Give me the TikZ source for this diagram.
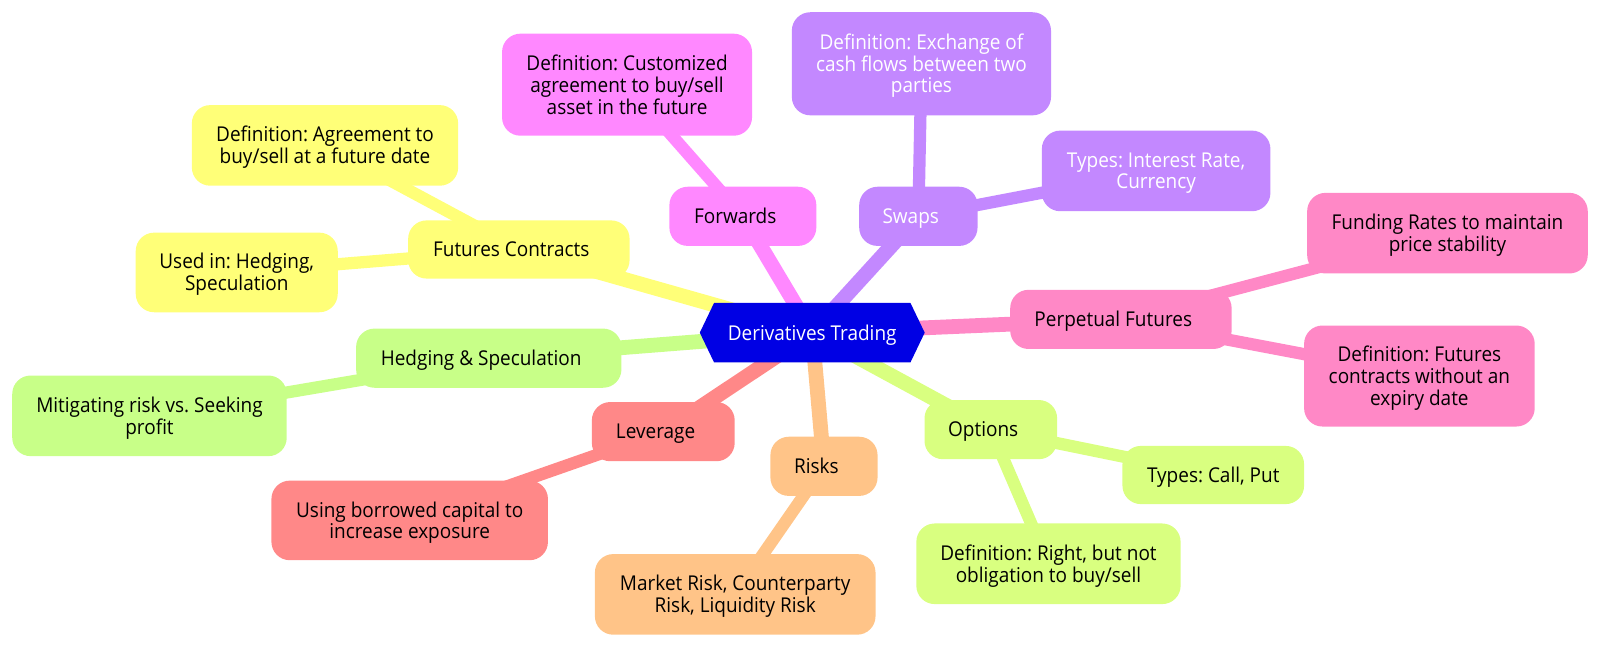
\documentclass[tikz,border=0pt]{standalone}
\usepackage{fontspec}
\setmainfont{Open Sans}[FakeStretch=0.93]
\frenchspacing
\pgfdeclarelayer{background}
\pgfdeclarelayer{mid}
\pgfsetlayers{background,mid,main}
\definecolor{cyel}{HTML}{FFFF78}
\definecolor{cmag}{HTML}{FF88FF}
\definecolor{cpur}{HTML}{C388FF}
\definecolor{cpink}{HTML}{FF88C6}
\definecolor{clime}{HTML}{D9FF80}
\definecolor{cora}{HTML}{FFC488}
\definecolor{cred}{HTML}{FF8888}
\definecolor{cgrn}{HTML}{C8FF88}
\definecolor{cblue}{HTML}{0000E4}
\newcommand\mmtext[1]{\raisebox{-2.75pt}[\height][\depth]{\begin{tabular}{@{}c@{}}#1\end{tabular}}}
\newcommand\mmtextL[1]{\mmtext{#1}\kern15pt}
\tikzset{
  mm/.style={rounded corners=18pt, inner sep=0pt,
    font=\fontsize{20}{20.7}\selectfont, text=black},
  rootconn/.style={line width=14.5pt},
  leafconn/.style={line width=12pt},
}
\begin{document}
\begin{tikzpicture}[x=1pt,y=-1pt]
\useasboundingbox (0,0) rectangle (1568,635);
% root
\node[mm, text=white, minimum width=220pt, minimum height=58pt] (root) at (796,326) {\mmtext{Derivatives Trading}};
% futures
\node[mm, fill=cyel, minimum width=217pt, minimum height=57pt] (fut) at (508.5,244.5) {\mmtextL{Futures Contracts}};
\node[mm, fill=cyel, minimum width=261pt, minimum height=79pt] (deffut) at (318.5,142.5) {\mmtext{Definition: Agreement to\\buy/sell at a future date}};
\node[mm, fill=cyel, minimum width=198pt, minimum height=78pt] (used) at (232,267) {\mmtext{Used in: Hedging,\\Speculation}};
% forwards
\node[mm, fill=cmag, minimum width=144pt, minimum height=58pt] (fwd) at (728,212) {\mmtextL{Forwards}};
\node[mm, fill=cmag, minimum width=245pt, minimum height=100pt] (deffwd) at (614.5,83) {\mmtext{Definition: Customized\\agreement to buy/sell\\asset in the future}};
% swaps
\node[mm, fill=cpur, text=white, minimum width=116pt, minimum height=58pt] (swp) at (900,212) {\mmtextL{Swaps}};
\node[mm, fill=cpur, text=white, minimum width=254pt, minimum height=101pt] (defswp) at (903,62.5) {\mmtext{Definition: Exchange of\\cash flows between two\\parties}};
\node[mm, fill=cpur, text=white, minimum width=224pt, minimum height=79pt] (typswp) at (1133,167.5) {\mmtext{Types: Interest Rate,\\Currency}};
% perpetual
\node[mm, fill=cpink, minimum width=217pt, minimum height=58pt] (perp) at (1098.5,313) {\mmtextL{Perpetual Futures}};
\node[mm, fill=cpink, minimum width=275pt, minimum height=79pt] (fund) at (1418.5,228.5) {\mmtext{Funding Rates to maintain\\price stability}};
\node[mm, fill=cpink, minimum width=226pt, minimum height=99pt] (defperp) at (1391,368.5) {\mmtext{Definition: Futures\\contracts without an\\expiry date}};
% options
\node[mm, fill=clime, minimum width=130pt, minimum height=58pt] (opt) at (971,421) {\mmtextL{Options}};
\node[mm, fill=clime, minimum width=178pt, minimum height=57pt] (typopt) at (1189,465.5) {\mmtext{Types: Call, Put}};
\node[mm, fill=clime, minimum width=259pt, minimum height=79pt] (defopt) at (1027.5,552.5) {\mmtext{Definition: Right, but not\\obligation to buy/sell}};
% risks
\node[mm, fill=cora, minimum width=105pt, minimum height=58pt] (risk) at (807.5,457) {\mmtextL{Risks}};
\node[mm, fill=cora, minimum width=275pt, minimum height=79pt] (market) at (720.5,582.5) {\mmtext{Market Risk, Counterparty\\Risk, Liquidity Risk}};
% leverage
\node[mm, fill=cred, minimum width=140pt, minimum height=58pt] (lev) at (650,423) {\mmtextL{Leverage}};
\node[mm, fill=cred, minimum width=271pt, minimum height=78pt] (using) at (401.5,510) {\mmtext{Using borrowed capital to\\increase exposure}};
% hedging
\node[mm, fill=cgrn, minimum width=260pt, minimum height=58pt] (hedge) at (479,351) {\mmtextL{Hedging \& Speculation}};
\node[mm, fill=cgrn, minimum width=269pt, minimum height=79pt] (mitig) at (146.5,407.5) {\mmtext{Mitigating risk vs. Seeking\\profit}};
% root hexagon
\begin{pgfonlayer}{mid}
\fill[cblue] (root.west) -- ([xshift=14pt]root.north west) -- ([xshift=-14pt]root.north east) -- (root.east) -- ([xshift=-14pt]root.south east) -- ([xshift=14pt]root.south west) -- cycle;
\end{pgfonlayer}
% connectors
\begin{pgfonlayer}{background}
\draw[rootconn, cyel] (root.center) -- (fut.center);
\draw[rootconn, cmag] (root.center) -- (fwd.center);
\draw[rootconn, cpur] (root.center) -- (swp.center);
\draw[rootconn, cpink] (root.center) -- (perp.center);
\draw[rootconn, clime] (root.center) -- (opt.center);
\draw[rootconn, cora] (root.center) -- (risk.center);
\draw[rootconn, cred] (root.center) -- (lev.center);
\draw[rootconn, cgrn] (root.center) -- (hedge.center);
\draw[leafconn, cyel] (fut.center) -- (deffut.center);
\draw[leafconn, cyel] (fut.center) -- (used.center);
\draw[leafconn, cmag] (fwd.center) -- (deffwd.center);
\draw[leafconn, cpur] (swp.center) -- (defswp.center);
\draw[leafconn, cpur] (swp.center) -- (typswp.center);
\draw[leafconn, cpink] (perp.center) -- (fund.center);
\draw[leafconn, cpink] (perp.center) -- (defperp.center);
\draw[leafconn, clime] (opt.center) -- (typopt.center);
\draw[leafconn, clime] (opt.center) -- (defopt.center);
\draw[leafconn, cora] (risk.center) -- (market.center);
\draw[leafconn, cred] (lev.center) -- (using.center);
\draw[leafconn, cgrn] (hedge.center) -- (mitig.center);
\end{pgfonlayer}
\end{tikzpicture}
\end{document}
